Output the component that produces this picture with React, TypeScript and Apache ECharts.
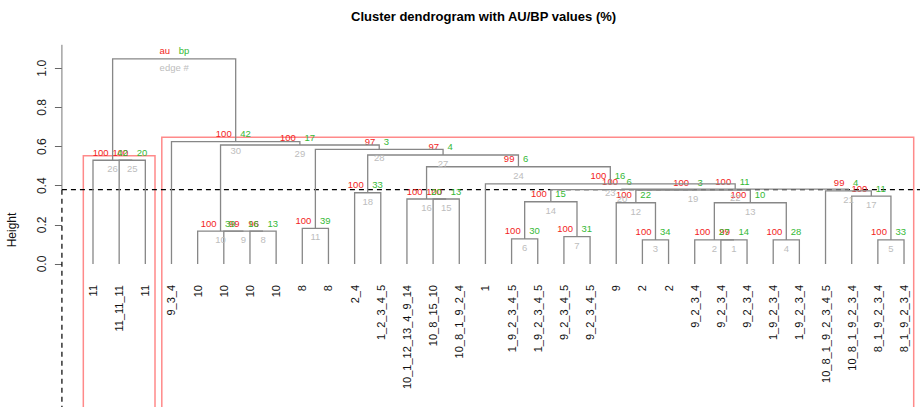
import React, { useEffect, useRef } from 'react';
import * as echarts from 'echarts';

// Leaf labels in dendrogram order
const leafLabels = [
  '11', '11_11_11', '11', '9_3_4', '10', '10', '10', '10', '8', '8', '2_4',
  '1_2_3_4_5', '10_1_12_13_4_9_14', '10_8_15_10', '10_8_1_9_2_4', '1',
  '1_9_2_3_4_5', '1_9_2_3_4_5', '9_2_3_4_5', '9_2_3_4_5', '9', '2', '2',
  '9_2_3_4', '9_2_3_4', '9_2_3_4', '1_9_2_3_4', '1_9_2_3_4',
  '10_8_1_9_2_3_4_5', '10_8_1_9_2_3_4', '8_1_9_2_3_4', '8_1_9_2_3_4',
];

// Merge table (hclust convention: negative = leaf position, positive = edge number)
const mergeA = [-25, -24, -22, -27, -31, -17, -19, -7, -6, -5, -9, -21, 2, 6, -14, -13, -30, -11, 12, 14, -29, 20, -16, 16, -2, -1, 18, 11, 10, -4, 26];
const mergeB = [-26, 1, -23, -28, -32, -18, -20, -8, 8, 9, -10, 3, 4, 7, -15, 15, 5, -12, 13, 19, 17, 21, 22, 23, -3, 25, 24, 27, 28, 29, 30];
const mergeHeight = [
  0.123, 0.123, 0.123, 0.123, 0.123, 0.128, 0.14, 0.168, 0.168, 0.168,
  0.182, 0.313, 0.313, 0.318, 0.332, 0.332, 0.347, 0.364, 0.377, 0.38,
  0.374, 0.383, 0.409, 0.497, 0.53, 0.53, 0.557, 0.586, 0.608, 0.625, 1.048,
];
const auValues = ['99', '100', '100', '100', '100', '100', '100', '96', '99', '100', '100', '100', '100', '100', '100', '100', '100', '100', '100', '100', '99', '100', '100', '99', '100', '100', '97', '97', '100', '100', 'au'];
const bpValues = ['14', '27', '34', '28', '33', '30', '31', '13', '16', '39', '39', '22', '10', '15', '13', '20', '11', '33', '3', '6', '4', '11', '16', '6', '20', '42', '4', '3', '17', '42', 'bp'];
const edgeLabels = ['1', '2', '3', '4', '5', '6', '7', '8', '9', '10', '11', '12', '13', '14', '15', '16', '17', '18', '19', '20', '21', '22', '23', '24', '25', '26', '27', '28', '29', '30', 'edge #'];

// Highlighted clusters (pvrect)
const rectFirstLeaf = [1, 4];
const rectLastLeaf = [3, 32];
const rectHeight = [0.53, 0.625];

const cutHeight = 0.38;
const yTicks = [0, 0.2, 0.4, 0.6, 0.8, 1.0];

const FONT = '"Liberation Sans", Arial, sans-serif';
const AU_COLOR = '#f21d1d';
const BP_COLOR = '#35b935';
const EDGE_COLOR = '#bdbdbd';
const TREE_COLOR = '#878787';

export default function App() {
  const ref = useRef<HTMLDivElement>(null);

  useEffect(() => {
    const el = ref.current;
    if (!el) return;
    const chart = echarts.init(el, null, { renderer: 'svg' });

    const nodeX: number[] = [];
    const nodeH: number[] = [];
    const gx = (c: number) => (c < 0 ? -c : nodeX[c]);
    const gh = (c: number) => (c < 0 ? 0 : nodeH[c]);
    const mergeData: number[][] = [];
    for (let i = 0; i < mergeA.length; i++) {
      const a = mergeA[i];
      const b = mergeB[i];
      nodeX[i + 1] = (gx(a) + gx(b)) / 2;
      nodeH[i + 1] = mergeHeight[i];
      mergeData.push([gx(a), gh(a), gx(b), gh(b), mergeHeight[i], i]);
    }
    const rectData = rectFirstLeaf.map((f, i) => [f, rectLastLeaf[i], rectHeight[i]]);

    const labelFont = `9.5px ${FONT}`;

    chart.setOption({
      animation: false,
      title: {
        text: 'Cluster dendrogram with AU/BP values (%)',
        left: 351,
        top: 10,
        padding: 0,
        textStyle: { fontSize: 13, fontWeight: 'bold', fontFamily: FONT, color: '#000' },
      },
      grid: { left: 79.92, right: 2.9, top: 44.8, bottom: 143, containLabel: false },
      xAxis: [
        {
          type: 'category',
          data: leafLabels,
          gridIndex: 0,
          position: 'bottom',
          axisLine: { show: false },
          axisTick: { show: false },
          splitLine: { show: false },
          axisLabel: {
            rotate: 90,
            interval: 0,
            margin: 21,
            fontSize: 11,
            fontFamily: FONT,
            color: '#111',
          },
        },
        { type: 'value', min: 0.5, max: 32.5, show: false, gridIndex: 0 },
      ],
      yAxis: {
        type: 'value',
        min: 0,
        max: 1.12,
        interval: 0.2,
        offset: 18,
        axisLine: { show: false },
        splitLine: { show: false },
        axisTick: { show: true, length: 7, lineStyle: { color: '#666' }, customValues: yTicks },
        axisLabel: {
          rotate: 90,
          margin: 14,
          fontSize: 12,
          fontFamily: FONT,
          color: '#222',
          customValues: yTicks,
          formatter: (v: number) => v.toFixed(1),
        },
      },
      graphic: [
        {
          type: 'text',
          x: 12,
          y: 230,
          rotation: Math.PI / 2,
          style: {
            text: 'Height',
            fill: '#111',
            font: `12px ${FONT}`,
            align: 'center',
            verticalAlign: 'middle',
          },
        },
      ],
      series: [
        {
          type: 'custom',
          xAxisIndex: 1,
          yAxisIndex: 0,
          clip: false,
          data: rectData,
          encode: { x: [0, 1], y: 2 },
          renderItem: (params: any, api: any) => {
            const f = api.value(0);
            const l = api.value(1);
            const h = api.value(2);
            const tl = api.coord([f - 0.37, h + 0.023]);
            const tr = api.coord([l + 0.37, h + 0.023]);
            const bottom = 430;
            return {
              type: 'polyline',
              shape: { points: [[tl[0], bottom], tl, tr, [tr[0], bottom]] },
              style: { stroke: '#ff8a8a', lineWidth: 1.5, fill: 'none' },
            };
          },
        },
        {
          type: 'custom',
          xAxisIndex: 1,
          yAxisIndex: 0,
          clip: false,
          data: [[cutHeight]],
          encode: { y: 0 },
          renderItem: (params: any, api: any) => {
            const p = api.coord([0.5, api.value(0)]);
            const top = api.coord([0.5, 1.12]);
            const ax = params.coordSys.x - 18;
            return {
              type: 'group',
              children: [
                {
                  type: 'line',
                  shape: { x1: ax, y1: top[1], x2: ax, y2: p[1] },
                  style: { stroke: '#777', lineWidth: 1 },
                },
                {
                  type: 'line',
                  shape: { x1: ax, y1: p[1], x2: 920, y2: p[1] },
                  style: { stroke: '#000', lineWidth: 1.2, lineDash: [5, 4] },
                },
                {
                  type: 'line',
                  shape: { x1: ax, y1: p[1], x2: ax, y2: 410 },
                  style: { stroke: '#000', lineWidth: 1.2, lineDash: [5, 4] },
                },
              ],
            };
          },
        },
        {
          type: 'custom',
          xAxisIndex: 1,
          yAxisIndex: 0,
          clip: false,
          data: mergeData,
          encode: { x: [0, 2], y: [1, 3, 4] },
          renderItem: (params: any, api: any) => {
            const xa = api.value(0);
            const ha = api.value(1);
            const xb = api.value(2);
            const hb = api.value(3);
            const h = api.value(4);
            const idx = api.value(5);
            const pa = api.coord([xa, ha]);
            const ta = api.coord([xa, h]);
            const tb = api.coord([xb, h]);
            const pb = api.coord([xb, hb]);
            const cx = (ta[0] + tb[0]) / 2;
            const cy = ta[1];
            return {
              type: 'group',
              children: [
                {
                  type: 'polyline',
                  shape: { points: [pa, ta, tb, pb] },
                  style: { stroke: TREE_COLOR, lineWidth: 1.3, fill: 'none' },
                },
                {
                  type: 'text',
                  x: cx - 4,
                  y: cy - 8,
                  style: { text: auValues[idx], fill: AU_COLOR, font: labelFont, align: 'right', verticalAlign: 'middle' },
                },
                {
                  type: 'text',
                  x: cx + 4.5,
                  y: cy - 8,
                  style: { text: bpValues[idx], fill: BP_COLOR, font: labelFont, align: 'left', verticalAlign: 'middle' },
                },
                {
                  type: 'text',
                  x: cx,
                  y: cy + 8.5,
                  style: { text: edgeLabels[idx], fill: EDGE_COLOR, font: labelFont, align: 'center', verticalAlign: 'middle' },
                },
              ],
            };
          },
        },
      ],
    });

    return () => {
      chart.dispose();
    };
  }, []);

  return (
    <div
      ref={ref}
      style={{ position: 'fixed', left: 0, top: 0, width: 920, height: 407, background: '#fff' }}
    />
  );
}
